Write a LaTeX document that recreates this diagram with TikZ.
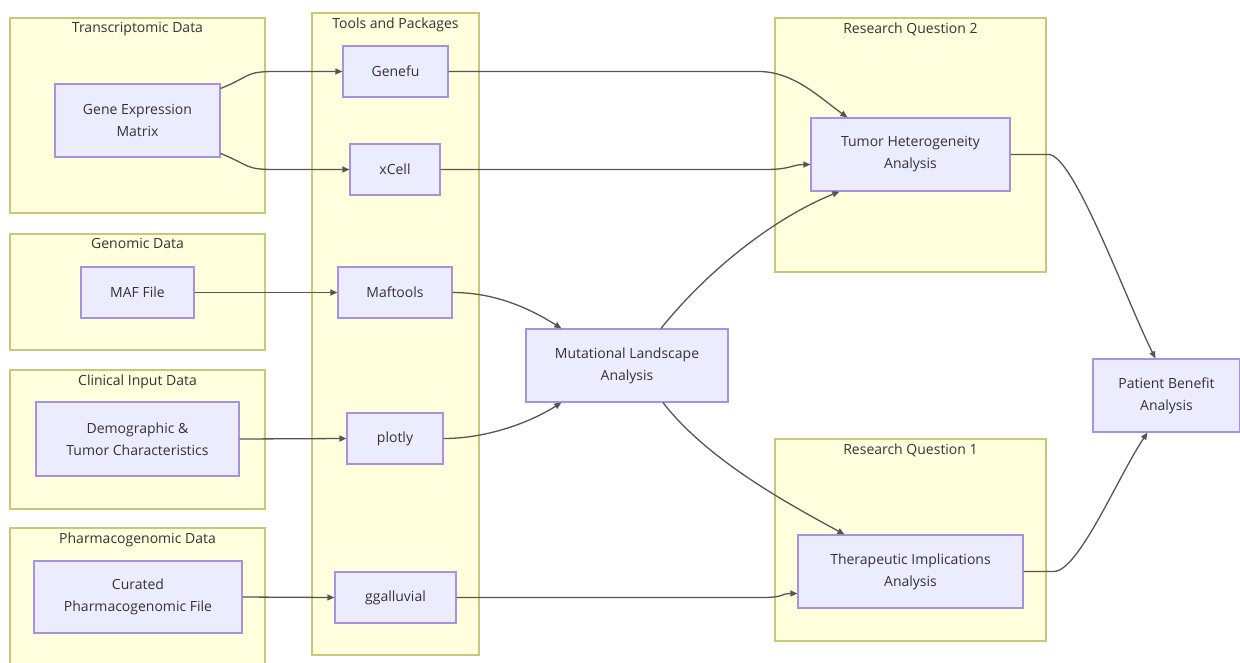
\documentclass[tikz,border=0pt]{standalone}
\usepackage{fontspec}
\setmainfont{Open Sans}
\usetikzlibrary{arrows.meta,calc}
\definecolor{clfill}{HTML}{FFFFDE}
\definecolor{clline}{HTML}{C8C878}
\definecolor{ndfill}{HTML}{ECECFF}
\definecolor{ndline}{HTML}{A892E0}
\definecolor{txt}{HTML}{333333}
\definecolor{edgecol}{HTML}{555555}
\begin{document}
\begin{tikzpicture}[x=1pt,y=-1pt,
  cluster/.style={draw=clline,fill=clfill,line width=1.2pt,inner sep=0pt},
  cltitle/.style={text=txt,font=\fontsize{14}{17}\selectfont,anchor=north,inner sep=0pt},
  proc/.style={draw=ndline,fill=ndfill,line width=1.2pt,inner sep=0pt,align=center,
    text=txt,font=\fontsize{14}{22}\selectfont},
  edge/.style={draw=edgecol,line width=1.3pt,-{Triangle[length=7pt,width=6pt]}}]
\useasboundingbox (0,0) rectangle (1240,662);

% subgraph frames
\node[cluster,minimum width=255,minimum height=195] (ctrans) at (137.5,115.5) {};
\node[cluster,minimum width=167,minimum height=642] (ctools) at (395.5,334) {};
\node[cluster,minimum width=255,minimum height=116] (cgen) at (137.5,292) {};
\node[cluster,minimum width=255,minimum height=139] (cclin) at (137.5,439.5) {};
\node[cluster,minimum width=255,minimum height=140] (cpharm) at (137.5,598) {};
\node[cluster,minimum width=271,minimum height=254] (crq2) at (910.5,145) {};
\node[cluster,minimum width=271,minimum height=202] (crq1) at (910.5,540) {};

\node[cltitle] (ttrans) at ($(ctrans.north)+(0,5)$) {Transcriptomic Data};
\node[cltitle] (ttools) at ($(ctools.north)+(0,5)$) {Tools and Packages};
\node[cltitle] (tgen) at ($(cgen.north)+(0,5)$) {Genomic Data};
\node[cltitle] (tclin) at ($(cclin.north)+(0,5)$) {Clinical Input Data};
\node[cltitle] (tpharm) at ($(cpharm.north)+(0,5)$) {Pharmacogenomic Data};
\node[cltitle] (trq2) at ($(crq2.north)+(0,5)$) {Research Question 2};
\node[cltitle] (trq1) at ($(crq1.north)+(0,5)$) {Research Question 1};

% process boxes
\node[proc,minimum width=165,minimum height=73] (gem) at (137.5,120.5) {Gene Expression\\Matrix};
\node[proc,minimum width=105,minimum height=51] (genefu) at (395.5,71.5) {Genefu};
\node[proc,minimum width=90,minimum height=51] (xcell) at (395,169.5) {xCell};
\node[proc,minimum width=113,minimum height=51] (maf) at (137.5,292.5) {MAF File};
\node[proc,minimum width=114,minimum height=51] (maftools) at (395,292.5) {Maftools};
\node[proc,minimum width=203,minimum height=74] (demo) at (137.5,439) {Demographic \&\\Tumor Characteristics};
\node[proc,minimum width=96,minimum height=51] (plotly) at (395,438.5) {plotly};
\node[proc,minimum width=208,minimum height=72] (curated) at (138,597) {Curated\\Pharmacogenomic File};
\node[proc,minimum width=121,minimum height=51] (gga) at (395.5,597.5) {ggalluvial};
\node[proc,minimum width=202,minimum height=73] (mut) at (627,365.5) {Mutational Landscape\\Analysis};
\node[proc,minimum width=199,minimum height=73] (tumor) at (910.5,154.5) {Tumor Heterogeneity\\Analysis};
\node[proc,minimum width=225,minimum height=73] (ther) at (910.5,571.5) {Therapeutic Implications\\Analysis};
\node[proc,minimum width=147,minimum height=73] (patient) at (1166.5,395.5) {Patient Benefit\\Analysis};

% connectors
\draw[edge] ($(gem.east)+(0,-32)$) .. controls +(30,-12) and +(-30,0) .. ($(genefu.west)+(-68,0)$) -- (genefu.west);
\draw[edge] ($(gem.east)+(0,33)$) .. controls +(30,12) and +(-30,0) .. ($(xcell.west)+(-75,0)$) -- (xcell.west);
\draw[edge] (genefu.east) -- ($(genefu.east)+(310,0)$) .. controls +(35,0) and +(-28,-20) .. ($(tumor.north west)+(37,0)$);
\draw[edge] (xcell.east) -- ($(xcell.east)+(325,0)$) .. controls +(25,0) and +(-18,0) .. ($(tumor.west)+(0,10)$);
\draw[edge] (maf.east) -- (maftools.west);
\draw[edge] (maftools.east) .. controls +(40,0) and +(-35,-22) .. ($(mut.north west)+(36,0)$);
\draw[edge] (demo.east) -- (plotly.west);
\draw[edge] (plotly.east) .. controls +(40,0) and +(-35,22) .. ($(mut.south west)+(36,0)$);
\draw[edge] (curated.east) -- (gga.west);
\draw[edge] (gga.east) -- ($(gga.east)+(305,0)$) .. controls +(25,0) and +(-18,0) .. ($(ther.west)+(0,22)$);
\draw[edge] ($(mut.north)+(34,0)$) .. controls +(50,-62) and +(-62,25) .. ($(tumor.south west)+(29,0)$);
\draw[edge] ($(mut.south)+(36,0)$) .. controls +(45,58) and +(-55,-30) .. ($(ther.north west)+(47,0)$);
\draw[edge] (tumor.east) -- ++(38,0) .. controls +(25,0) and +(-30,-60) .. ($(patient.north west)+(63,0)$);
\draw[edge] (ther.east) -- ++(30,0) .. controls +(25,0) and +(-30,45) .. ($(patient.south west)+(55,0)$);
\end{tikzpicture}
\end{document}
